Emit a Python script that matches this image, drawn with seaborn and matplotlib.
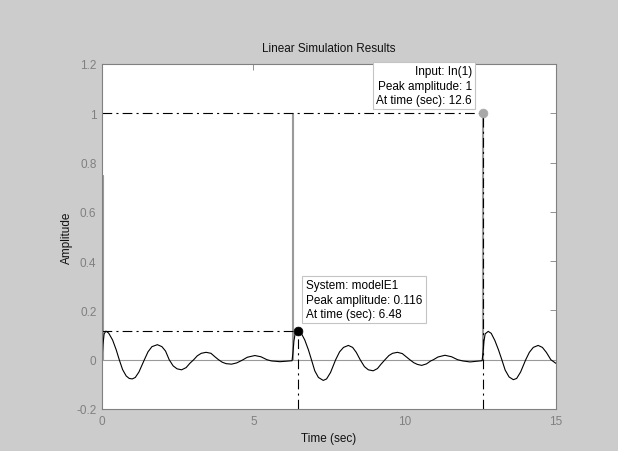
import matplotlib
matplotlib.use("Agg")
import matplotlib.pyplot as plt
import seaborn as sns
import pandas as pd

# ---- data ----
out_t = [0.00, 0.03, 0.07, 0.13, 0.22, 0.35, 0.47, 0.57, 0.68, 0.80, 0.90, 1.00, 1.10, 1.22,
         1.40, 1.52, 1.65, 1.83, 1.98, 2.10, 2.22, 2.35, 2.48, 2.63, 2.78, 2.90, 3.03, 3.15,
         3.28, 3.44, 3.60, 3.73, 3.85, 3.97, 4.10, 4.28, 4.45, 4.60, 4.66, 4.80, 5.05, 5.25,
         5.45, 5.60, 5.88, 6.10, 6.28, 6.31, 6.34, 6.38, 6.48, 6.58, 6.70, 6.82, 6.92, 7.03,
         7.15, 7.31, 7.42, 7.55, 7.72, 7.85, 7.98, 8.14, 8.28, 8.40, 8.53, 8.67, 8.80, 8.96,
         9.10, 9.22, 9.35, 9.48, 9.60, 9.76, 9.92, 10.05, 10.17, 10.30, 10.42, 10.56, 10.72,
         10.86, 10.95, 11.10, 11.33, 11.55, 11.75, 11.92, 12.16, 12.40, 12.56, 12.59, 12.62,
         12.66, 12.76, 12.86, 12.98, 13.10, 13.21, 13.32, 13.45, 13.59, 13.70, 13.83, 14.00,
         14.12, 14.25, 14.41, 14.55, 14.68, 14.83, 15.00]
out_v = [0.000, 0.060, 0.105, 0.116, 0.108, 0.080, 0.040, 0.000, -0.040, -0.066, -0.076,
         -0.078, -0.072, -0.050, 0.000, 0.032, 0.053, 0.061, 0.053, 0.035, 0.000, -0.025,
         -0.037, -0.041, -0.032, -0.015, 0.000, 0.016, 0.026, 0.030, 0.026, 0.012, 0.000,
         -0.010, -0.016, -0.018, -0.013, -0.004, 0.000, 0.010, 0.017, 0.012, 0.000, -0.005,
         -0.008, -0.006, -0.004, 0.030, 0.075, 0.105, 0.116, 0.108, 0.080, 0.040, 0.000,
         -0.045, -0.072, -0.084, -0.078, -0.052, 0.000, 0.032, 0.050, 0.058, 0.050, 0.030,
         0.000, -0.028, -0.041, -0.045, -0.036, -0.018, 0.000, 0.017, 0.026, 0.030, 0.025,
         0.012, 0.000, -0.012, -0.019, -0.023, -0.017, -0.005, 0.000, 0.011, 0.018, 0.012,
         0.000, -0.005, -0.009, -0.006, -0.004, 0.030, 0.075, 0.105, 0.115, 0.107, 0.078,
         0.040, 0.000, -0.042, -0.070, -0.081, -0.076, -0.050, 0.000, 0.030, 0.050, 0.058,
         0.050, 0.030, 0.000, -0.015]

in_t = [0.03, 0.04, 0.04, 6.28, 6.28, 6.31, 6.31, 12.57, 12.57, 12.60, 12.60, 15.00]
in_v = [0.75, 0.75, 0.00, 0.00, 1.00, 1.00, 0.00, 0.00, 1.00, 1.00, 0.00, 0.00]

sys_peak_t, sys_peak_v = 6.48, 0.116
in_peak_t, in_peak_v = 12.6, 1.0

x_ticks = [0, 5, 10, 15]
y_ticks = [-0.2, 0, 0.2, 0.4, 0.6, 0.8, 1, 1.2]
y_tick_labels = ["-0.2", "0", "0.2", "0.4", "0.6", "0.8", "1", "1.2"]

title = "Linear Simulation Results"
xlabel = "Time (sec)"
ylabel = "Amplitude"
sys_tip = "System: modelE1\nPeak amplitude: 0.116\nAt time (sec): 6.48"
in_tip = "Input: In(1)\nPeak amplitude: 1\nAt time (sec): 12.6"

# ---- style ----
sns.set_style("white")
plt.rcParams["font.family"] = ["Liberation Sans", "DejaVu Sans"]
plt.rcParams["lines.scale_dashes"] = False

BG = "#cccccc"
GRAY = "#808080"
FS = 8.5

fig = plt.figure(figsize=(6.18, 4.52), dpi=100, facecolor=BG)
ax = fig.add_axes([102 / 618, 42 / 452, 454 / 618, 345 / 452])
ax.set_facecolor("white")

df_in = pd.DataFrame({"t": in_t, "v": in_v})
df_out = pd.DataFrame({"t": out_t, "v": out_v})

sns.lineplot(data=df_in, x="t", y="v", ax=ax, color="#9a9a9a", linewidth=0.8,
             sort=False, estimator=None)
sns.lineplot(data=df_out, x="t", y="v", ax=ax, color="black", linewidth=0.8,
             sort=False, estimator=None)

dash = (0, (7, 3, 1.5, 3))
ax.plot([0, sys_peak_t], [sys_peak_v, sys_peak_v], color="black", lw=0.8, ls=dash)
ax.plot([sys_peak_t, sys_peak_t], [-0.2, sys_peak_v], color="black", lw=0.8, ls=dash)
ax.plot([0, in_peak_t], [in_peak_v, in_peak_v], color="black", lw=0.8, ls=dash)
ax.plot([in_peak_t, in_peak_t], [-0.2, in_peak_v], color="black", lw=0.8, ls=dash)

sns.scatterplot(x=[sys_peak_t], y=[sys_peak_v], ax=ax, color="black", s=40,
                edgecolor="black", zorder=5)
sns.scatterplot(x=[in_peak_t], y=[in_peak_v], ax=ax, color="#a8a8a8", s=40,
                edgecolor="#a8a8a8", zorder=5, clip_on=False)

box = dict(boxstyle="square,pad=0.3", facecolor="white", edgecolor="#c4c4c4", linewidth=0.8)
ax.text(6.74, 0.162, sys_tip, ha="left", va="bottom", fontsize=FS, color="black",
        linespacing=1.25, bbox=box, zorder=6)
ax.text(12.22, 1.03, in_tip, ha="right", va="bottom", fontsize=FS, color="black",
        linespacing=1.25, bbox=box, zorder=6, multialignment="right", clip_on=False)

ax.set_xlim(0, 15)
ax.set_ylim(-0.2, 1.2)
ax.set_xticks(x_ticks)
ax.set_xticklabels([str(v) for v in x_ticks])
ax.set_yticks(y_ticks)
ax.set_yticklabels(y_tick_labels)
ax.tick_params(direction="in", length=4, width=0.6, colors=GRAY, labelsize=FS,
               top=True, right=True, pad=4)
for s in ax.spines.values():
    s.set_color(GRAY)
    s.set_linewidth(0.8)

ax.set_title(title, fontsize=FS, color="#111111", pad=9)
ax.set_xlabel(xlabel, fontsize=FS, color="#111111", labelpad=4)
ax.set_ylabel(ylabel, fontsize=FS, color="#111111", labelpad=2)

fig.savefig("out.png", dpi=100, facecolor=BG)
